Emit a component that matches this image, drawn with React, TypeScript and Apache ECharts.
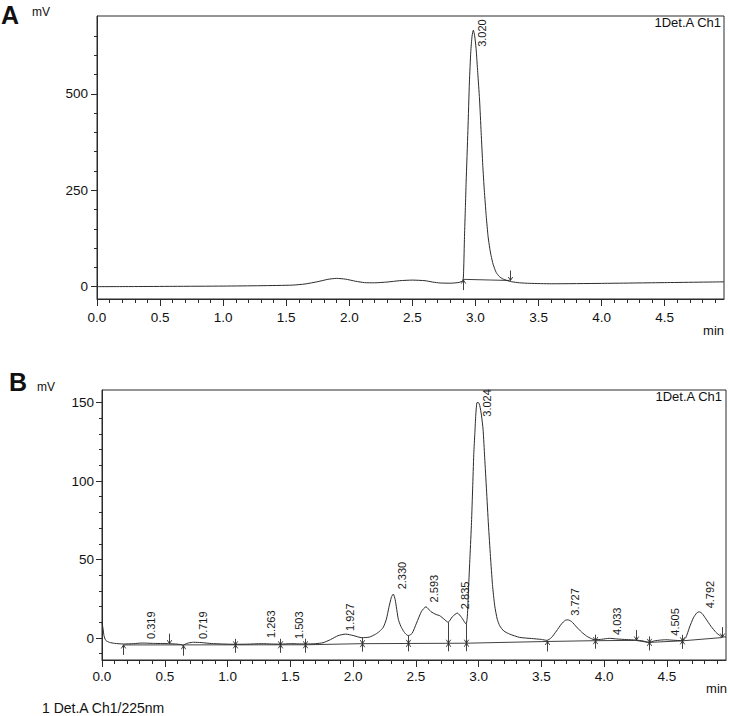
import React, { useEffect, useRef } from "react";
import * as echarts from "echarts";

const FONT = '"Liberation Sans", Arial, Helvetica, sans-serif';
const INK = "#2b2b2b";

// ---- axis ticks ----
const xMajorTicks = [0, 0.5, 1.0, 1.5, 2.0, 2.5, 3.0, 3.5, 4.0, 4.5];
const xMinorTicks = [
  0, 0.1, 0.2, 0.3, 0.4, 0.5, 0.6, 0.7, 0.8, 0.9, 1.0, 1.1, 1.2, 1.3, 1.4, 1.5, 1.6, 1.7, 1.8, 1.9,
  2.0, 2.1, 2.2, 2.3, 2.4, 2.5, 2.6, 2.7, 2.8, 2.9, 3.0, 3.1, 3.2, 3.3, 3.4, 3.5, 3.6, 3.7, 3.8, 3.9,
  4.0, 4.1, 4.2, 4.3, 4.4, 4.5, 4.6, 4.7, 4.8, 4.9,
];
const yMajorTicksA = [0, 250, 500];
const yMinorTicksA = [0, 50, 100, 150, 200, 250, 300, 350, 400, 450, 500, 550, 600, 650];
const yMajorTicksB = [0, 50, 100, 150];
const yMinorTicksB = [-10, 0, 10, 20, 30, 40, 50, 60, 70, 80, 90, 100, 110, 120, 130, 140, 150];

// ---- panel A (time min, signal mV) ----
const curveA: [number, number][] = [
  [0, 0], [0.3, 0.3], [0.6, 0.8], [1.0, 1.5], [1.3, 2.5], [1.55, 4], [1.65, 7], [1.75, 13],
  [1.83, 19], [1.9, 21.5], [1.97, 19.5], [2.05, 14], [2.12, 10.5], [2.2, 10], [2.3, 12],
  [2.4, 15.5], [2.5, 17], [2.6, 15.5], [2.66, 12], [2.72, 9.5], [2.8, 9], [2.87, 11],
  [2.9, 16], [2.906, 40], [2.913, 130], [2.92, 205], [2.926, 271], [2.94, 405], [2.952, 531],
  [2.963, 610], [2.973, 650], [2.983, 665], [2.993, 652], [3.005, 617], [3.018, 555],
  [3.032, 487], [3.045, 400], [3.058, 314], [3.07, 250], [3.085, 184], [3.1, 130],
  [3.113, 100], [3.124, 80], [3.14, 58], [3.164, 37], [3.19, 26], [3.217, 20], [3.25, 16],
  [3.283, 13], [3.35, 10], [3.43, 8.6], [3.6, 7.5], [4.0, 8.5], [4.5, 10.5], [4.97, 12.5],
];
const baselineA: [number, number][] = [[2.9, 19], [3.27, 16]];
// [time, curve value, baseline value, kind]
const markersA: [number, number, number, string][] = [
  [2.9, 16, 17, "up"],
  [3.27, 16, 16, "down"],
];
// [x, bottom value, text]
const peakLabelsA: [number, number, string][] = [[3.05, 622, "3.020"]];

// ---- panel B ----
const curveB: [number, number][] = [
  [0, 10], [0.008, 6], [0.016, 1.5], [0.03, -1.5], [0.06, -2.8], [0.1, -3.4], [0.17, -3.8],
  [0.25, -3.6], [0.32, -3.2], [0.4, -3.4], [0.53, -3.6], [0.6, -3.9], [0.635, -4.3],
  [0.645, -4.9], [0.66, -4.0], [0.69, -3.1], [0.73, -2.7], [0.79, -2.9], [0.87, -3.5],
  [0.96, -3.8], [1.056, -4.0], [1.16, -3.9], [1.27, -3.6], [1.35, -3.8], [1.42, -3.9],
  [1.5, -3.6], [1.56, -3.7], [1.62, -3.8], [1.7, -3.6], [1.76, -3.0], [1.82, -1.0],
  [1.88, 1.5], [1.94, 2.5], [2.0, 1.6], [2.07, 0.2], [2.13, 0.6], [2.18, 2.5], [2.21, 4.2],
  [2.24, 6.8], [2.265, 12], [2.285, 19.5], [2.305, 26], [2.32, 28], [2.335, 24.5],
  [2.36, 12], [2.38, 7.5], [2.4, 4.6], [2.42, 2.5], [2.44, 1.5], [2.47, 3], [2.505, 9.5],
  [2.545, 17], [2.58, 19.9], [2.62, 16.8], [2.66, 15], [2.69, 14.2], [2.725, 12],
  [2.757, 10], [2.79, 13.5], [2.83, 15.9], [2.865, 13], [2.9, 8.9], [2.91, 14],
  [2.919, 31], [2.931, 52], [2.943, 73.5], [2.952, 95], [2.961, 117], [2.97, 131],
  [2.977, 142], [2.987, 150], [2.998, 150], [3.009, 148], [3.022, 142], [3.035, 133],
  [3.048, 115], [3.062, 95], [3.078, 72], [3.094, 52], [3.11, 34], [3.128, 20.5],
  [3.148, 12], [3.168, 7.8], [3.2, 4.5], [3.247, 2.5], [3.327, 0.4], [3.42, -0.3],
  [3.5, -0.9], [3.544, -1.5], [3.58, 0.3], [3.62, 4.5], [3.66, 9], [3.69, 11.3],
  [3.71, 11.6], [3.74, 10.5], [3.78, 7], [3.82, 3.8], [3.86, 1.2], [3.9, -0.5],
  [3.923, -1.1], [3.98, -0.8], [4.04, -0.2], [4.1, -0.6], [4.18, -1.0], [4.25, -1.3],
  [4.31, -1.9], [4.355, -2.8], [4.4, -1.8], [4.45, -1.3], [4.49, -1.1], [4.55, -1.4],
  [4.62, -1.7], [4.65, 0.3], [4.68, 7], [4.71, 12.8], [4.735, 15.8], [4.757, 16.7],
  [4.78, 15.6], [4.81, 12.2], [4.85, 7.5], [4.89, 3.6], [4.92, 1.6], [4.94, 0.6], [4.97, 0.8],
];
const baselineB: [number, number][] = [
  [0.17, -4.4], [1.62, -4.3], [2.07, -3.6], [2.9, -3.3], [3.544, -2.2], [3.923, -1.7],
  [4.25, -1.5], [4.355, -2.8], [4.62, -1.8], [4.94, 0.3],
];
const markersB: [number, number, number, string][] = [
  [0.17, -3.8, -4.4, "up"],
  [0.53, -3.6, -4.2, "down"],
  [0.645, -4.9, -4.9, "up"],
  [1.056, -4.0, -4.35, "drop"],
  [1.42, -3.9, -4.33, "drop"],
  [1.62, -3.8, -4.3, "drop"],
  [2.07, 0.2, -3.6, "drop"],
  [2.44, 1.5, -3.4, "drop"],
  [2.757, 10, -3.35, "drop"],
  [2.9, 8.9, -3.3, "drop"],
  [3.544, -1.5, -2.2, "up"],
  [3.923, -1.1, -1.7, "drop"],
  [4.25, -1.3, -1.5, "down"],
  [4.355, -2.8, -2.8, "drop"],
  [4.62, -1.7, -1.8, "drop"],
  [4.94, 0.6, 0.3, "down"],
];
const peakLabelsB: [number, number, string][] = [
  [0.393, -0.6, "0.319"],
  [0.807, -0.6, "0.719"],
  [1.347, 0, "1.263"],
  [1.57, -0.6, "1.503"],
  [1.975, 4.5, "1.927"],
  [2.389, 31, "2.330"],
  [2.647, 22.7, "2.593"],
  [2.889, 18.4, "2.835"],
  [3.066, 141, "3.024"],
  [3.764, 14.2, "3.727"],
  [4.1, 1.9, "4.033"],
  [4.567, 1.5, "4.505"],
  [4.845, 18.9, "4.792"],
];

const KIND: Record<string, number> = { up: 0, down: 1, drop: 2 };

function markerSeries(markers: [number, number, number, string][], xi: number, yi: number) {
  return {
    type: "custom",
    xAxisIndex: xi,
    yAxisIndex: yi,
    silent: true,
    z: 5,
    data: markers.map((m) => [m[0], m[1], m[2], KIND[m[3]]]),
    encode: { x: 0, y: 1 },
    renderItem: (params: any, api: any) => {
      const t = api.value(0);
      const cv = api.value(1);
      const bv = api.value(2);
      const k = api.value(3);
      const pc = api.coord([t, cv]);
      const pb = api.coord([t, bv]);
      const x = Math.round(pc[0]) + 0.5;
      const st = { stroke: INK, lineWidth: 0.9, fill: "none" };
      const head = (tipY: number, dir: number) => ({
        type: "polyline",
        shape: { points: [[x - 2.2, tipY + dir * 3.5], [x, tipY], [x + 2.2, tipY + dir * 3.5]] },
        style: st,
      });
      const kids: any[] = [];
      if (k === 0) {
        const y = pb[1];
        kids.push({ type: "line", shape: { x1: x, y1: y + 10, x2: x, y2: y }, style: st }, head(y, 1));
      } else if (k === 1) {
        const y = pc[1];
        kids.push({ type: "line", shape: { x1: x, y1: y - 10, x2: x, y2: y }, style: st }, head(y, -1));
      } else {
        const yc = pc[1];
        const yb = pb[1];
        kids.push(
          { type: "line", shape: { x1: x, y1: Math.min(yc, yb - 6), x2: x, y2: yb + 8 }, style: st },
          head(yb, -1),
          head(yb, 1)
        );
      }
      return { type: "group", children: kids };
    },
  };
}

function labelSeries(labels: [number, number, string][], xi: number, yi: number) {
  return {
    type: "custom",
    xAxisIndex: xi,
    yAxisIndex: yi,
    silent: true,
    z: 6,
    data: labels.map((l) => [l[0], l[1]]),
    encode: { x: 0, y: 1 },
    renderItem: (params: any, api: any) => {
      const p = api.coord([api.value(0), api.value(1)]);
      return {
        type: "text",
        x: p[0],
        y: p[1],
        rotation: Math.PI / 2,
        style: {
          text: labels[params.dataIndex][2],
          fill: "#1a1a1a",
          fontSize: 11,
          fontFamily: FONT,
          align: "left",
          verticalAlign: "middle",
        },
      };
    },
  };
}

function xAxes(grid: number, labelMargin: number) {
  const lineStyle = { color: INK, width: 1 };
  return [
    {
      type: "value",
      gridIndex: grid,
      position: "bottom",
      min: 0,
      max: 4.97,
      axisLine: { show: true, onZero: false, lineStyle },
      axisTick: { show: true, length: 7, customValues: xMajorTicks, lineStyle },
      axisLabel: {
        show: true,
        customValues: xMajorTicks,
        formatter: (v: number) => v.toFixed(1),
        fontSize: 13.5,
        fontFamily: FONT,
        color: "#111",
        margin: labelMargin,
      },
      splitLine: { show: false },
    },
    {
      type: "value",
      gridIndex: grid,
      position: "bottom",
      min: 0,
      max: 4.97,
      axisLine: { show: false, onZero: false },
      axisTick: { show: true, length: 4, customValues: xMinorTicks, lineStyle },
      axisLabel: { show: false },
      splitLine: { show: false },
    },
  ];
}

function yAxes(grid: number, min: number, max: number, major: number[], minor: number[], margin: number) {
  const lineStyle = { color: INK, width: 1 };
  return [
    {
      type: "value",
      gridIndex: grid,
      position: "left",
      min,
      max,
      axisLine: { show: true, onZero: false, lineStyle },
      axisTick: { show: true, length: 6, customValues: major, lineStyle },
      axisLabel: {
        show: true,
        customValues: major,
        fontSize: 13.5,
        fontFamily: FONT,
        color: "#111",
        margin,
      },
      splitLine: { show: false },
    },
    {
      type: "value",
      gridIndex: grid,
      position: "left",
      min,
      max,
      axisLine: { show: false, onZero: false },
      axisTick: { show: true, length: 3, customValues: minor, lineStyle },
      axisLabel: { show: false },
      splitLine: { show: false },
    },
  ];
}

function txt(text: string, x: number, y: number, size: number, align: string, weight = "normal") {
  return {
    type: "text",
    x,
    y,
    silent: true,
    style: {
      text,
      fontSize: size,
      fontWeight: weight,
      fontFamily: FONT,
      fill: "#111",
      align,
      verticalAlign: "middle",
      textAlign: align,
      textVerticalAlign: "middle",
    },
  };
}

export default function App() {
  const ref = useRef<HTMLDivElement>(null);
  useEffect(() => {
    if (!ref.current) return;
    const chart = echarts.init(ref.current, undefined, { renderer: "svg" });
    const curveStyle = { color: INK, width: 1 };
    chart.setOption({
      animation: false,
      backgroundColor: "#ffffff",
      textStyle: { fontFamily: FONT },
      grid: [
        { left: 97, top: 16, right: 6, height: 283, show: true, borderColor: INK, borderWidth: 1, backgroundColor: "transparent" },
        { left: 102, top: 390, right: 4, height: 270, show: true, borderColor: INK, borderWidth: 1, backgroundColor: "transparent" },
      ],
      xAxis: [...xAxes(0, 11), ...xAxes(1, 9)],
      yAxis: [
        ...yAxes(0, -32, 702, yMajorTicksA, yMinorTicksA, 9),
        ...yAxes(1, -14, 158, yMajorTicksB, yMinorTicksB, 8),
      ],
      series: [
        {
          type: "line",
          xAxisIndex: 0,
          yAxisIndex: 0,
          data: curveA,
          showSymbol: false,
          smooth: 0.2,
          lineStyle: curveStyle,
          silent: true,
          z: 3,
        },
        {
          type: "line",
          xAxisIndex: 0,
          yAxisIndex: 0,
          data: baselineA,
          showSymbol: false,
          lineStyle: { color: INK, width: 0.9 },
          silent: true,
          z: 2,
        },
        markerSeries(markersA, 0, 0),
        labelSeries(peakLabelsA, 0, 0),
        {
          type: "line",
          xAxisIndex: 2,
          yAxisIndex: 2,
          data: curveB,
          showSymbol: false,
          smooth: 0.2,
          lineStyle: curveStyle,
          silent: true,
          z: 3,
        },
        {
          type: "line",
          xAxisIndex: 2,
          yAxisIndex: 2,
          data: baselineB,
          showSymbol: false,
          lineStyle: { color: INK, width: 0.9 },
          silent: true,
          z: 2,
        },
        markerSeries(markersB, 2, 2),
        labelSeries(peakLabelsB, 2, 2),
      ],
      graphic: [
        txt("A", 1, 14.5, 25, "left", "bold"),
        txt("mV", 32, 11.5, 12, "left"),
        txt("1Det.A Ch1", 721, 22.5, 13, "right"),
        txt("min", 724, 330.5, 13, "right"),
        txt("B", 9, 382, 25, "left", "bold"),
        txt("mV", 37, 387, 12, "left"),
        txt("1Det.A Ch1", 722, 396, 13, "right"),
        txt("min", 727, 688, 13, "right"),
        txt("1 Det.A Ch1/225nm", 42, 708, 14, "left"),
      ],
    });
    return () => chart.dispose();
  }, []);
  return <div ref={ref} style={{ position: "absolute", left: 0, top: 0, width: 730, height: 716 }} />;
}
